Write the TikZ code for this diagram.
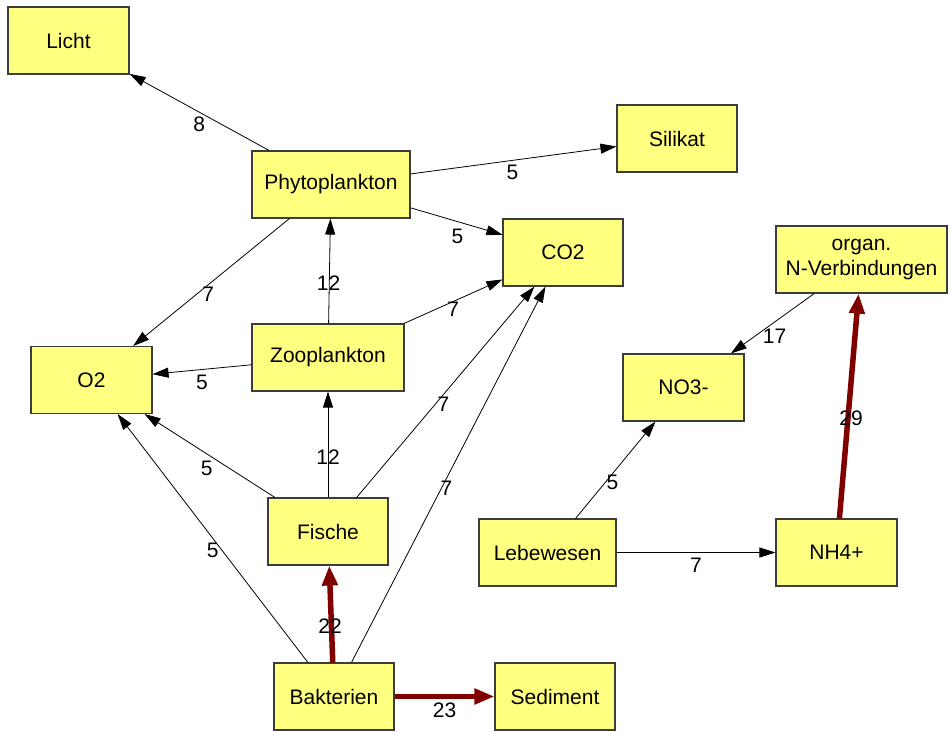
\documentclass[tikz,border=0pt]{standalone}
\usepackage{fontspec}
\setmainfont{Liberation Sans}
\usetikzlibrary{arrows.meta}
\definecolor{boxfill}{RGB}{255,255,128}
\definecolor{boxline}{RGB}{60,60,60}
\definecolor{flowred}{RGB}{128,0,0}
\begin{document}
\begin{tikzpicture}[x=1pt,y=-1pt,
  box/.style={draw=boxline, line width=1.1pt, fill=boxfill, minimum width=120pt,
    minimum height=67pt, inner sep=0pt, font=\fontsize{21}{25}\selectfont, align=center},
  flow/.style={draw=black, line width=0.8pt, -{Triangle[length=16pt,width=10pt]}},
  bigflow/.style={draw=flowred, line width=5.5pt, -{Triangle[length=20pt,width=15pt]}},
  lbl/.style={font=\fontsize{21}{25}\selectfont, inner sep=0pt, midway, yshift=-12.5pt}]
\useasboundingbox (0,0) rectangle (950,731);
% nodes
\node[box, minimum width=121pt] (licht) at (68.5,40.5) {Licht};
\node[box, minimum width=158pt] (phyto) at (331,184.5) {Phytoplankton};
\node[box] (silikat) at (677,138.5) {Silikat};
\node[box] (co2) at (563,252.5) {CO2};
\node[box, minimum width=171pt] (organ) at (861.5,259.5) {organ.\\N-Verbindungen};
\node[box, minimum width=121pt] (o2) at (91.5,380) {O2};
\node[box, minimum width=152pt] (zoo) at (328,357.5) {Zooplankton};
\node[box, minimum width=121pt] (no3) at (683.5,387.5) {NO3-};
\node[box] (fische) at (328,531.5) {Fische};
\node[box, minimum width=137pt] (leb) at (547.5,552.5) {Lebewesen};
\node[box, minimum width=121pt] (nh4) at (836.5,552.5) {NH4+};
\node[box] (bakt) at (334,696.5) {Bakterien};
\node[box] (sed) at (555,696.5) {Sediment};
% connectors
\draw[flow] (phyto) -- (licht) node[lbl]{8};
\draw[flow] (phyto) -- (silikat) node[lbl, xshift=-1pt]{5};
\draw[flow] (phyto) -- (co2) node[lbl, xshift=1pt, yshift=-2.5pt]{5};
\draw[flow] (phyto) -- (o2) node[lbl, xshift=-3pt]{7};
\draw[flow] (zoo) -- (phyto) node[lbl, xshift=-1pt]{12};
\draw[flow] (zoo) -- (co2) node[lbl, yshift=5pt]{7};
\draw[flow] (zoo) -- (o2) node[lbl]{5};
\draw[flow] (fische) -- (zoo) node[lbl]{12};
\draw[flow] (fische) -- (o2) node[lbl, xshift=-3pt]{5};
\draw[flow] (fische) -- (co2) node[lbl, xshift=-2pt]{7};
\draw[flow] (bakt) -- (o2) node[lbl]{5};
\draw[flow] (bakt) -- (co2) node[lbl, xshift=-2pt, yshift=-1.5pt]{7};
\draw[bigflow] (bakt) -- (fische) node[lbl, xshift=-1pt]{22};
\draw[bigflow] (bakt) -- (sed) node[lbl, yshift=-1.5pt]{23};
\draw[flow] (organ) -- (no3) node[lbl, xshift=2pt]{17};
\draw[bigflow] (nh4) -- (organ) node[lbl, xshift=2pt]{29};
\draw[flow] (leb) -- (no3) node[lbl, xshift=-3pt]{5};
\draw[flow] (leb) -- (nh4) node[lbl]{7};
\end{tikzpicture}
\end{document}
